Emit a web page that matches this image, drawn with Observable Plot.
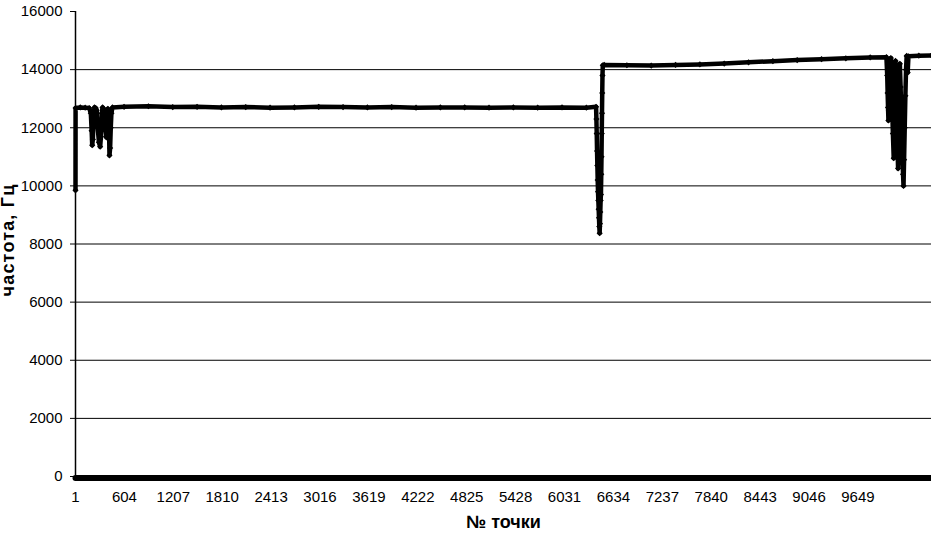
<!DOCTYPE html>
<html>
<head>
<meta charset="utf-8">
<script src="https://cdn.jsdelivr.net/npm/d3@7"></script>
<script src="https://cdn.jsdelivr.net/npm/@observablehq/plot@0.6"></script>
<style>
  html, body { margin: 0; padding: 0; background: #fff; }
  #chart svg { display: block; }
</style>
</head>
<body>
<div id="chart"></div>
<script>
// ---- Data ----
const pointIndex = [
  1, 2, 60, 120, 170, 190, 200, 207, 215, 225, 235, 250, 262, 275, 290, 305, 315, 325, 335,
  348, 360, 372, 383, 392, 400, 408, 414, 420, 428, 436, 444, 457,
  600, 900, 1200, 1500, 1800, 2100, 2400, 2700, 3000, 3300, 3600, 3900, 4200, 4500, 4800,
  5100, 5400, 5700, 6000, 6300, 6420,
  6424, 6428, 6432, 6436, 6440, 6444, 6448, 6452, 6456, 6460, 6464, 6468, 6472, 6476, 6480,
  6484, 6487, 6490, 6493, 6496, 6499, 6503,
  6520, 6800, 7100, 7400, 7700, 8000, 8300, 8600, 8900, 9200, 9500, 9800, 10000,
  10010, 10015, 10020, 10025, 10030, 10040, 10055, 10062, 10070, 10080, 10090, 10098, 10106,
  10112, 10120, 10128, 10136, 10144, 10150, 10158, 10166, 10175, 10185, 10195, 10205, 10211,
  10218, 10226, 10234, 10242, 10250, 10262, 10272, 10400, 10556
];
const frequency = [
  9850, 12680, 12700, 12690, 12680, 12500, 11900, 11400, 11600, 12400, 12700, 12680, 12600, 12000, 11500, 11350, 11700, 12500, 12700,
  12650, 12300, 11900, 11670, 12200, 12650, 12600, 12000, 11050, 11300, 12000, 12500, 12700,
  12720, 12740, 12710, 12720, 12700, 12710, 12690, 12700, 12720, 12710, 12700, 12710, 12690, 12700, 12700,
  12690, 12700, 12690, 12700, 12690, 12720,
  12300, 11800, 11200, 10700, 10200, 9800, 9500, 9200, 8900, 8600, 8370, 8700, 9100, 9500, 9700,
  10400, 11000, 11800, 12500, 13200, 13800, 14150,
  14160, 14150, 14140, 14160, 14180, 14210, 14250, 14290, 14330, 14360, 14390, 14420, 14430,
  13800, 13200, 12700, 12250, 12600, 13300, 14400, 13600, 12800, 11800, 10950, 11500, 12800,
  14300, 13500, 12400, 11400, 10600, 11300, 12600, 14200, 13400, 12300, 11200, 10400, 10000,
  10900, 12000, 13100, 14000, 14470, 13900, 14460, 14480, 14490
];
const zeroIndex = [1, 10556];
const zeroFrequency = [0, 0];
const xTicks = [1, 604, 1207, 1810, 2413, 3016, 3619, 4222, 4825, 5428, 6031, 6634, 7237, 7840, 8443, 9046, 9649];
const yTicks = [0, 2000, 4000, 6000, 8000, 10000, 12000, 14000, 16000];
const yGrid = [2000, 4000, 6000, 8000, 10000, 12000, 14000];
const xLabel = "№ точки";
const yLabel = "частота, Гц";

// ---- Build tables ----
const series = pointIndex.map((x, i) => ({x, y: frequency[i]}));
const zeros = zeroIndex.map((x, i) => ({x, y: zeroFrequency[i]}));

const chart = Plot.plot({
  width: 931,
  height: 538,
  marginLeft: 75,
  marginRight: 0,
  marginTop: 11,
  marginBottom: 62,
  style: {fontFamily: "'Liberation Sans', Arial, sans-serif", fontSize: "15px", color: "#000", background: "#fff", overflow: "visible"},
  x: {domain: [1, 10556]},
  y: {domain: [0, 16000]},
  marks: [
    Plot.ruleY(yGrid, {stroke: "#000", strokeWidth: 1}),
    Plot.axisY({ticks: yTicks, tickFormat: d => String(d), tickSize: 5, tickPadding: 8, label: null, fontSize: 15}),
    Plot.axisX({ticks: xTicks, tickFormat: d => String(d), tickSize: 0, tickPadding: 15, label: null, fontSize: 15}),
    Plot.ruleX([1], {y1: 0, y2: 16000, stroke: "#000", strokeWidth: 1.5}),
    Plot.line(series, {x: "x", y: "y", stroke: "#000", strokeWidth: 4.5, strokeLinejoin: "round"}),
    Plot.dot(series, {x: "x", y: "y", symbol: "diamond2", r: 2.8, fill: "#000", stroke: "none"}),
    Plot.line(zeros, {x: "x", y: "y", stroke: "#000", strokeWidth: 6, dy: 1.5}),
    Plot.text([yLabel], {frameAnchor: "left", dx: -67, dy: -4, rotate: -90, fontWeight: "bold", fontSize: 18, lineAnchor: "middle", textAnchor: "middle"}),
    Plot.text([xLabel], {frameAnchor: "bottom", dy: 46, fontWeight: "bold", fontSize: 18, lineAnchor: "middle", textAnchor: "middle"})
  ]
});
d3.select(chart).selectAll("text")
  .filter(function () { return this.textContent === yLabel; })
  .attr("letter-spacing", "1.2px");
document.getElementById("chart").appendChild(chart);
</script>
</body>
</html>
